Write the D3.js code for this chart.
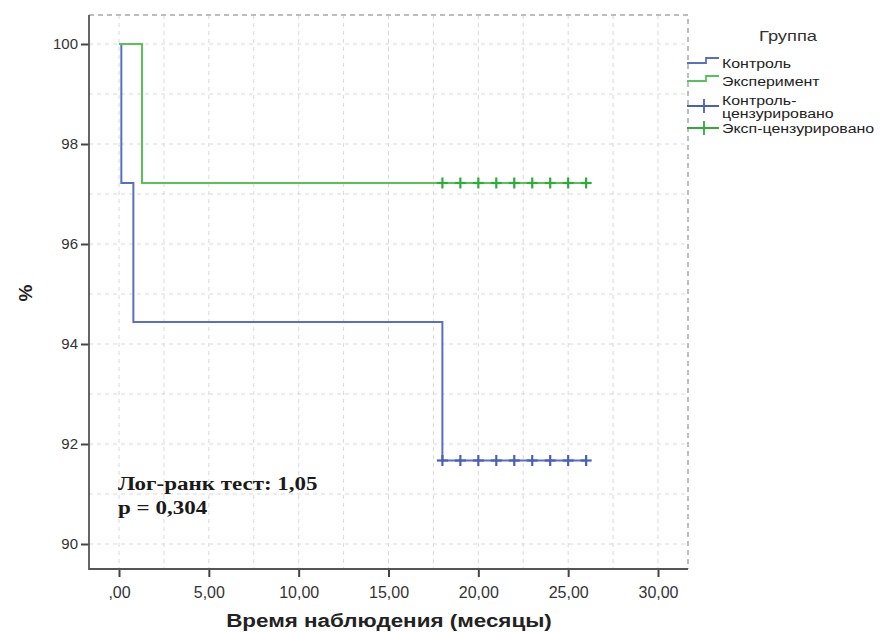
<!DOCTYPE html>
<html>
<head>
<meta charset="utf-8">
<script src="https://cdn.jsdelivr.net/npm/d3@7/dist/d3.min.js"></script>
<style>
  body { margin: 0; background: #fff; }
  svg { display: block; font-family: "Liberation Sans", Arial, sans-serif; }
</style>
</head>
<body>
<svg id="chart" width="881" height="632"></svg>
<script>
// Kaplan-Meier steps
const ctrlTime = [0, 0.13, 0.8, 18, 26];
const ctrlSurv = [100, 97.22, 94.44, 91.67, 91.67];
const expTime = [0, 1.28, 26];
const expSurv = [100, 97.22, 97.22];
const ctrlCensored = [18, 19, 20, 21, 22, 23, 24, 25, 26];
const expCensored = [18, 19, 20, 21, 22, 23, 24, 25, 26];
const ctrlCensLevel = 91.67;
const expCensLevel = 97.22;

const xTicks = [0, 5, 10, 15, 20, 25, 30];
const xTickLabels = [",00", "5,00", "10,00", "15,00", "20,00", "25,00", "30,00"];
const yTicks = [90, 92, 94, 96, 98, 100];
const xGrid = d3.range(0, 30.01, 2.5);
const yGrid = d3.range(90, 100.01, 1);

const blue = "#5a6ec6", green = "#55c455";
const blueMark = "#4a5fbb", greenMark = "#2fab3a";

const legendItems = [
  { label: ["Контроль"], kind: "step", color: blue },
  { label: ["Эксперимент"], kind: "step", color: green },
  { label: ["Контроль-", "цензурировано"], kind: "cross", color: blueMark },
  { label: ["Эксп-цензурировано"], kind: "cross", color: greenMark }
];

const svg = d3.select("#chart");
const pl = 89, pr = 688, pt = 15, pb = 569;
const sx = 1.18; // the picture is stretched sideways

const x = d3.scaleLinear().domain([-1.67, 31.67]).range([pl, pr]);
const y = d3.scaleLinear().domain([89.5, 100.58]).range([pb, pt]);

svg.append("rect").attr("width", 881).attr("height", 632).attr("fill", "#fff");

// stretched text helper
function label(parent, tx, ty, str, anchor) {
  return parent.append("text")
    .attr("transform", `translate(${tx},${ty}) scale(${sx},1)`)
    .attr("text-anchor", anchor || "start").text(str);
}

// grid
const grid = svg.append("g").attr("stroke", "#d9d9d9").attr("stroke-dasharray", "4,4").attr("stroke-width", 1);
grid.selectAll(".vg").data(xGrid).enter().append("line")
  .attr("x1", d => x(d)).attr("x2", d => x(d)).attr("y1", pt).attr("y2", pb);
grid.selectAll(".hg").data(yGrid).enter().append("line")
  .attr("y1", d => y(d)).attr("y2", d => y(d)).attr("x1", pl).attr("x2", pr);

// top / right dashed border
svg.append("path")
  .attr("d", `M${pl},${pt}H${pr}V${pb}`)
  .attr("fill", "none").attr("stroke", "#bdbdbd").attr("stroke-width", 2)
  .attr("stroke-dasharray", "5,4");

// axes
const xAxis = d3.axisBottom(x).tickValues(xTicks).tickSize(8)
  .tickFormat((d, i) => xTickLabels[i]);
const gx = svg.append("g").attr("transform", `translate(0,${pb})`).call(xAxis);
gx.select(".domain").remove();
gx.selectAll(".tick line").attr("stroke", "#444").attr("stroke-width", 2);
gx.selectAll(".tick text").attr("font-size", 16).attr("fill", "#333").attr("dy", "1.1em")
  .style("font-family", "Liberation Sans, Arial, sans-serif");

const yAxis = d3.axisLeft(y).tickValues(yTicks).tickSize(8).tickFormat(d3.format("d"));
const gy = svg.append("g").attr("transform", `translate(${pl},0)`).call(yAxis);
gy.select(".domain").remove();
gy.selectAll(".tick line").attr("stroke", "#444").attr("stroke-width", 2);
gy.selectAll(".tick text").attr("font-size", 15).attr("fill", "#333").attr("x", -11)
  .style("font-family", "Liberation Sans, Arial, sans-serif");

svg.append("path")
  .attr("d", `M${pl},${pt}V${pb}H${pr}`)
  .attr("fill", "none").attr("stroke", "#555").attr("stroke-width", 1.8);

// curves
const line = d3.line().curve(d3.curveStepAfter).x(d => x(d[0])).y(d => y(d[1]));
svg.append("path").datum(ctrlTime.map((t, i) => [t, ctrlSurv[i]]))
  .attr("d", line).attr("fill", "none").attr("stroke", blue).attr("stroke-width", 2);
svg.append("path").datum(expTime.map((t, i) => [t, expSurv[i]]))
  .attr("d", line).attr("fill", "none").attr("stroke", green).attr("stroke-width", 2);

function crosses(times, level, color) {
  const g = svg.append("g").attr("stroke", color).attr("stroke-width", 2.2);
  g.selectAll(".v").data(times).enter().append("line")
    .attr("x1", d => x(d)).attr("x2", d => x(d))
    .attr("y1", y(level) - 5.5).attr("y2", y(level) + 5.5);
  g.selectAll(".h").data(times).enter().append("line")
    .attr("x1", d => x(d) - 5.5).attr("x2", d => x(d) + 5.5)
    .attr("y1", y(level)).attr("y2", y(level));
}
crosses(expCensored, expCensLevel, greenMark);
crosses(ctrlCensored, ctrlCensLevel, blueMark);

// titles
label(svg, 389, 627, "Время наблюдения (месяцы)", "middle")
  .attr("font-size", 19).attr("font-weight", "bold").attr("fill", "#222");
svg.append("text").attr("transform", "translate(32,293) rotate(-90)")
  .attr("text-anchor", "middle").attr("font-size", 19).attr("font-weight", "bold")
  .attr("fill", "#222").text("%");

// log-rank annotation
const annG = svg.append("g").attr("font-family", "Liberation Serif, Times New Roman, serif")
  .attr("font-size", 19.5).attr("font-weight", "bold").attr("fill", "#1a1a1a");
label(annG, 118, 490, "Лог-ранк тест: 1,05");
label(annG, 118, 514, "p = 0,304");

// legend
const lg = svg.append("g").attr("fill", "#222");
label(lg, 788, 41, "Группа", "middle").attr("font-size", 15.5).attr("fill", "#333");
const rowY = [63, 81, 106, 128];
legendItems.forEach((it, i) => {
  const cy = rowY[i];
  if (it.kind === "step") {
    lg.append("path").attr("d", `M687,${cy}H706V${cy - 5}H719`)
      .attr("fill", "none").attr("stroke", it.color).attr("stroke-width", 1.8);
  } else {
    lg.append("path").attr("d", `M687,${cy}H719M704,${cy - 7}V${cy + 7}`)
      .attr("fill", "none").attr("stroke", it.color).attr("stroke-width", 1.8);
  }
  if (it.label.length === 1) {
    label(lg, 722, cy + 5, it.label[0]).attr("font-size", 13.5);
  } else {
    label(lg, 722, cy - 1.5, it.label[0]).attr("font-size", 13.5);
    label(lg, 722, cy + 12, it.label[1]).attr("font-size", 13.5);
  }
});
</script>
</body>
</html>
